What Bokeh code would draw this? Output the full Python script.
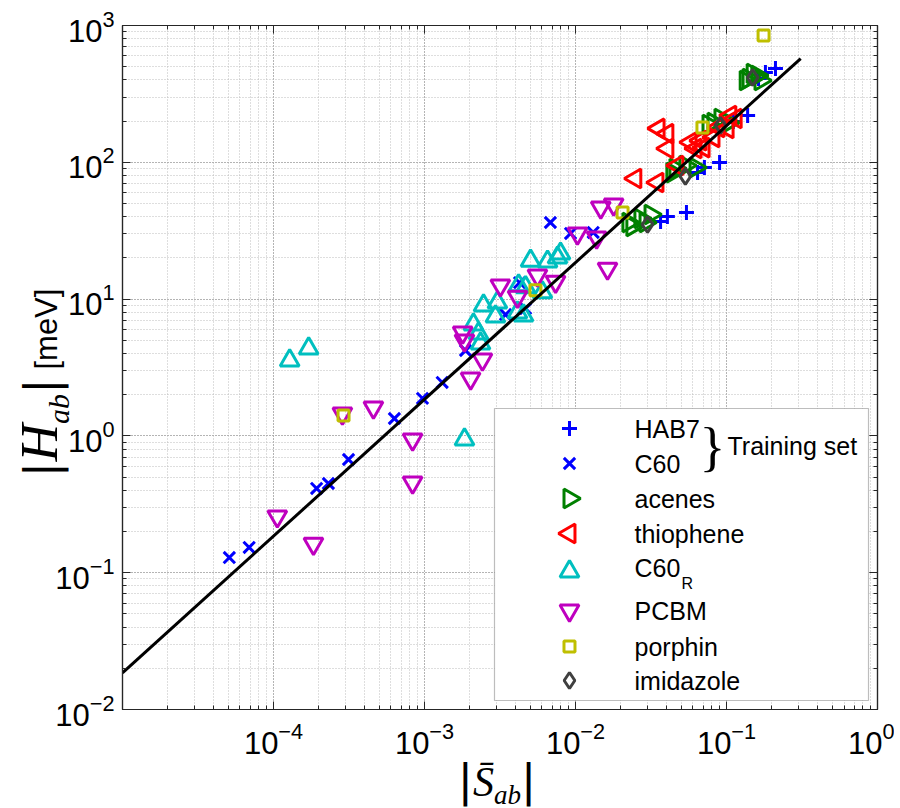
import math
from bokeh.plotting import figure
from bokeh.models import (Range1d, LogAxis, LogTicker, LogTickFormatter, Label, BoxAnnotation,
                          CustomJSTickFormatter, Div)
from bokeh.layouts import row, column
from bokeh.embed import file_html
from bokeh.resources import INLINE

# ---------------- data (|S_ab|, |H_ab| in meV) ----------------
hab7_s = [0.211, 0.181, 0.163, 0.138, 0.111, 0.090, 0.0714, 0.0643, 0.0543, 0.0406, 0.0366]
hab7_h = [485, 453, 410, 220, 199, 99.7, 91.6, 84.1, 42.9, 40.2, 36.9]

c60_s = [5.1e-5, 6.9e-5, 1.93e-4, 2.31e-4, 3.14e-4, 6.32e-4, 9.7e-4, 1.31e-3, 1.87e-3,
         3.44e-3, 4.67e-3, 4.26e-3, 6.82e-3, 9.27e-3, 1.31e-2]
c60_h = [0.129, 0.153, 0.413, 0.449, 0.672, 1.34, 1.88, 2.46, 4.21,
         7.71, 8.53, 13.2, 36.3, 30.2, 30.7]

acenes_s = [0.140, 0.149, 0.160, 0.134, 0.168, 0.082, 0.0912, 0.103, 0.076,
            0.0459, 0.0534, 0.0624, 0.0438, 0.0224, 0.0269, 0.0314, 0.0291, 0.0238]
acenes_h = [410, 446, 431, 396, 396, 195, 209, 195, 189,
            90.1, 94.8, 91.6, 84.1, 36.3, 38.8, 41.5, 36.3, 34.0]

thio_s = [0.0355, 0.0406, 0.0406, 0.0249, 0.0349, 0.0473, 0.0578, 0.0673, 0.0705,
          0.082, 0.0885, 0.1017, 0.106, 0.115, 0.0624]
thio_h = [177, 162, 126, 76.2, 71.2, 94.8, 140, 144, 128,
          152, 180, 177, 220, 209, 126]

c60r_s = [1.28e-4, 1.71e-4, 1.84e-3, 2.11e-3, 2.28e-3, 2.35e-3, 2.46e-3, 3.04e-3, 2.95e-3,
          4.13e-3, 4.53e-3, 4.20e-3, 4.67e-3, 5.04e-3, 6.53e-3, 7.60e-3, 7.96e-3, 6.04e-3]
c60r_h = [3.56, 4.35, 0.942, 6.52, 5.61, 4.73, 8.98, 9.44, 7.46,
          7.98, 7.58, 12.6, 12.2, 19.1, 18.8, 20.1, 21.5, 11.2]

pcbm_s = [1.06e-4, 1.84e-4, 2.86e-4, 4.59e-4, 8.34e-4, 8.34e-4, 1.79e-3, 1.84e-3, 2.42e-3,
          2.02e-3, 3.18e-3, 4.13e-3, 5.60e-3, 7.38e-3, 1.03e-2, 1.38e-2, 1.47e-2, 1.79e-2, 1.63e-2]
pcbm_h = [0.258, 0.163, 1.46, 1.61, 0.942, 0.456, 5.70, 4.98, 3.62,
          2.63, 12.6, 10.4, 14.9, 13.4, 30.2, 28.2, 46.7, 49.2, 16.7]

porphin_s = [2.91e-4, 5.43e-3, 2.05e-2, 0.0693, 0.176]
porphin_h = [1.41, 11.6, 42.9, 180, 845]

imid_s = [0.149, 0.0912, 0.0534, 0.030]
imid_h = [417, 186, 78.8, 35.1]

FIT_C = 1850.0          # |H_ab| = C |S_ab|, meV
fit_s = [1e-5, 0.31]

legend_names = ["HAB7", "C60", "acenes", "thiophene", "C60", "PCBM", "porphin", "imidazole"]

# ---------------- layout ----------------
YDIV_W, YDIV_OVER = 70, 28            # y-label strip; the figure border overlaps it
PX0 = YDIV_W - YDIV_OVER              # page x where the figure starts
PW, PH = 852, 775
FL, FT, FW, FH = 122, 25, 755, 684    # plot frame in page pixels
X_LO, X_HI, Y_LO, Y_HI = 1e-5, 1.0, 1e-2, 1e3


def px_x(px):
    lo, hi = math.log10(X_LO), math.log10(X_HI)
    return 10 ** (lo + (px - FL) / FW * (hi - lo))


def px_y(py):
    lo, hi = math.log10(Y_LO), math.log10(Y_HI)
    return 10 ** (hi - (py - FT) / FH * (hi - lo))


# start a hair above 1e-5 so that the unlabelled left edge gets no "10^-5" label
p = figure(width=PW, height=PH, x_axis_type="log", y_axis_type="log",
           x_range=Range1d(X_LO * 1.0002, X_HI), y_range=Range1d(Y_LO, Y_HI),
           output_backend="svg", toolbar_location=None,
           min_border_left=FL - PX0, min_border_right=PX0 + PW - (FL + FW),
           min_border_top=FT, min_border_bottom=PH - (FT + FH))
p.background_fill_color = "white"
p.border_fill_color = None
p.outline_line_color = "#262626"
p.outline_line_width = 1.2

ticker = LogTicker(num_minor_ticks=10)


def style_axis(ax):
    ax.ticker = ticker
    ax.major_tick_in = 8
    ax.major_tick_out = 0
    ax.minor_tick_in = 4
    ax.minor_tick_out = 0
    ax.axis_line_color = "#262626"
    ax.axis_line_width = 1.2
    ax.major_tick_line_color = "#262626"
    ax.minor_tick_line_color = "#262626"


p.add_layout(LogAxis(), "right")
p.add_layout(LogAxis(), "above")
for ax in p.axis:
    style_axis(ax)
for ax in p.right + p.above:
    ax.formatter = CustomJSTickFormatter(code="return ''")
    ax.major_label_standoff = 0
    ax.major_label_text_font_size = "8px"
for ax in p.below + p.left:
    ax.formatter = LogTickFormatter()
    ax.major_label_text_font = "Liberation Sans"
    ax.major_label_text_font_size = "31px"
    ax.major_label_text_color = "black"
p.below[0].major_label_standoff = 12
p.left[0].major_label_standoff = 8

for g in (p.xgrid, p.ygrid):
    g.ticker = ticker
    g.grid_line_color = "#9a9a9a"
    g.grid_line_dash = "1 2"
    g.grid_line_width = 1
    g.minor_grid_line_color = "#bdbdbd"
    g.minor_grid_line_dash = "1 2"
    g.minor_grid_line_width = 1

# ---------------- series ----------------
BLUE, GREEN, RED = "#0000ff", "#008000", "#ff0000"
CYAN, MAG, YEL, GRAY = "#00bfbf", "#bf00bf", "#bfbf00", "#404040"

styles = [
    dict(marker="cross", size=15, line_color=BLUE, line_width=3),
    dict(marker="x", size=16, line_color=BLUE, line_width=3),
    dict(marker="triangle", size=19, angle=-math.pi / 2, line_color=GREEN, line_width=3, fill_color=None),
    dict(marker="triangle", size=19, angle=math.pi / 2, line_color=RED, line_width=3, fill_color=None),
    dict(marker="triangle", size=19, line_color=CYAN, line_width=3, fill_color=None),
    dict(marker="inverted_triangle", size=19, line_color=MAG, line_width=3, fill_color=None),
    dict(marker="square", size=11, line_color=YEL, line_width=3, fill_color=None),
    dict(marker="diamond", size=16, line_color=GRAY, line_width=3, fill_color=None),
]
series = [(hab7_s, hab7_h), (c60_s, c60_h), (acenes_s, acenes_h), (thio_s, thio_h),
          (c60r_s, c60r_h), (pcbm_s, pcbm_h), (porphin_s, porphin_h), (imid_s, imid_h)]

for (xs, ys), st in zip(series, styles):
    p.scatter(x=xs, y=ys, **st)

p.line(x=fit_s, y=[FIT_C * s for s in fit_s], line_color="black", line_width=3)


def add_label(x, y, text, size, font="Liberation Sans", style="normal", align="left",
              baseline="middle"):
    p.add_layout(Label(x=x, y=y, text=text, text_font=font, text_font_size=f"{size}px",
                       text_font_style=style, text_align=align, text_baseline=baseline,
                       text_color="black"))


# ---------------- legend (inside the frame) ----------------
p.add_layout(BoxAnnotation(left=px_x(494), right=px_x(868), top=px_y(408), bottom=px_y(700),
                           fill_color="white", fill_alpha=1.0, line_color="#262626",
                           line_width=1.2, level="underlay"))
row_y = [428, 463, 498, 533, 571, 610, 646, 680]
text_y = [428, 463, 498, 533, 567, 610, 646, 680]
for st, ry, ty, name in zip(styles, row_y, text_y, legend_names):
    p.scatter(x=[px_x(569)], y=[px_y(ry)], **st)
    add_label(px_x(634), px_y(ty), name, 25)
add_label(px_x(681), px_y(583), "R", 16)
add_label(px_x(712), px_y(446), "}", 54, font="Liberation Serif", align="center")
add_label(px_x(727), px_y(445), "Training set", 25)

# ---------------- axis titles (HTML, real text) ----------------
SERIF = "'Liberation Serif', serif"
SANS = "'Liberation Sans', sans-serif"
BAR = "'DejaVu Sans', sans-serif"

ylab_html = (
    f'<div style="position:relative;width:{YDIV_W}px;height:{PH}px;">'
    f'<div style="position:absolute;left:40px;top:383px;transform:translate(-50%,-50%) rotate(-90deg);'
    f'white-space:nowrap;line-height:1;color:black;">'
    f'<span style="font-family:{BAR};font-size:47px;">|</span>'
    f'<span style="font-family:{SERIF};font-style:italic;font-size:52px;">H</span>'
    f'<span style="font-family:{SERIF};font-style:italic;font-size:30px;position:relative;top:12px;">ab</span>'
    f'<span style="font-family:{BAR};font-size:47px;">|</span>'
    f'<span style="font-family:{SANS};font-size:31px;">&nbsp;[meV]</span>'
    f'</div></div>'
)
XDIV_H, XDIV_OVER = 50, 18
xlab_html = (
    f'<div style="position:relative;width:{PW}px;height:{XDIV_H}px;">'
    f'<div style="position:absolute;left:{497 - PX0}px;top:23px;transform:translate(-50%,-50%);'
    f'white-space:nowrap;line-height:1;color:black;">'
    f'<span style="font-family:{BAR};font-size:45px;">|</span>'
    f'<span style="font-family:{SERIF};font-style:italic;font-size:42px;">S&#772;</span>'
    f'<span style="font-family:{SERIF};font-style:italic;font-size:27px;position:relative;top:8px;">ab</span>'
    f'<span style="font-family:{BAR};font-size:45px;">|</span>'
    f'</div></div>'
)

ydiv = Div(text=ylab_html, width=YDIV_W, height=PH, margin=(0, -YDIV_OVER, 0, 0))
xdiv = Div(text=xlab_html, width=PW, height=XDIV_H, margin=(-XDIV_OVER, 0, 0, 0))

layout = row(ydiv, column(p, xdiv, spacing=0), spacing=0)

open("out.html", "w").write(file_html(layout, INLINE))
